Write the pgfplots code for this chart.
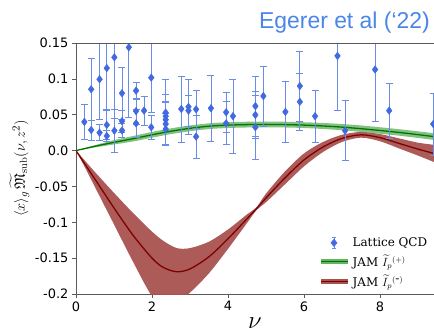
\documentclass[border=0pt]{standalone}
\usepackage{amsmath,amssymb}
\usepackage{pgfplots}
\pgfplotsset{compat=1.18}
\usepgfplotslibrary{fillbetween}
\usepackage{fontspec}
\newfontfamily\djsans{DejaVu Sans}
\newfontfamily\djserif{DejaVu Serif}
\newfontfamily\arial{Liberation Sans}
\definecolor{ptc}{RGB}{65,105,225}
\definecolor{errc}{RGB}{105,140,230}
\definecolor{gline}{RGB}{0,118,0}
\definecolor{gband}{RGB}{100,178,100}
\definecolor{rline}{RGB}{128,0,0}
\definecolor{rband}{RGB}{168,82,80}
\definecolor{titleblue}{RGB}{74,134,232}
\definecolor{axgray}{RGB}{90,90,90}

\pgfplotstableread{
x y e
0.22 0.040 0.025
0.40 0.0855 0.043
0.40 0.0287 0.014
0.62 0.0994 0.056
0.62 0.025 0.011
0.81 0.115 0.057
0.81 0.0357 0.020
0.81 0.0204 0.008
1.01 0.130 0.085
1.01 0.0278 0.030
1.21 0.080 0.036
1.21 0.041 0.015
1.21 0.028 0.010
1.39 0.144 0.097
1.58 0.0835 0.012
1.58 0.055 0.018
1.58 0.038 0.020
1.79 0.0557 0.020
1.98 0.1017 0.048
1.98 0.0325 0.017
2.36 0.053 0.046
2.36 0.048 0.020
2.36 0.043 0.035
2.36 0.037 0.030
2.36 0.030 0.022
2.77 0.058 0.046
2.96 0.061 0.039
2.96 0.0557 0.022
3.16 0.0576 0.026
3.16 0.0194 0.030
3.55 0.059 0.046
3.95 0.0534 0.028
3.95 0.038 0.030
4.13 0.048 0.052
4.72 0.062 0.042
4.72 0.0497 0.033
4.72 0.0325 0.045
4.93 0.076 0.042
5.51 0.054 0.042
5.89 0.090 0.049
5.89 0.068 0.040
6.29 0.048 0.036
6.88 0.132 0.076
7.08 0.0278 0.042
7.87 0.113 0.072
8.24 0.0557 0.038
9.40 0.037 0.043
}\lattice

\pgfplotstableread{
x c u l
0 0 0 0
0.25 -0.020 -0.015 -0.025
0.5 -0.040 -0.030 -0.051
1.0 -0.080 -0.059 -0.103
1.5 -0.118 -0.087 -0.155
2.0 -0.150 -0.113 -0.203
2.3 -0.163 -0.126 -0.209
2.65 -0.169 -0.136 -0.211
3.0 -0.165 -0.136 -0.198
3.5 -0.148 -0.127 -0.171
4.0 -0.123 -0.110 -0.137
4.5 -0.095 -0.089 -0.101
4.75 -0.081 -0.079 -0.083
5.0 -0.066 -0.060 -0.072
5.5 -0.038 -0.029 -0.047
6.0 -0.013 -0.004 -0.022
6.5 0.005 0.012 -0.002
7.0 0.017 0.022 0.012
7.5 0.022 0.026 0.018
8.0 0.018 0.023 0.013
8.5 0.010 0.017 0.003
9.0 0.002 0.011 -0.007
9.42 -0.004 0.008 -0.016
}\red

\pgfplotstableread{
x c u l
0 0 0 0
0.5 0.0060 0.0075 0.0045
1.0 0.0115 0.0145 0.0085
1.5 0.0165 0.0203 0.0127
2.0 0.0220 0.0260 0.0180
2.5 0.0270 0.0310 0.0230
3.0 0.0310 0.0350 0.0270
3.5 0.0340 0.0380 0.0300
4.0 0.0355 0.0395 0.0315
4.5 0.0362 0.0402 0.0322
5.0 0.0365 0.0405 0.0325
5.5 0.0362 0.0402 0.0322
6.0 0.0355 0.0395 0.0315
6.5 0.0343 0.0385 0.0301
7.0 0.0327 0.0370 0.0284
7.5 0.0305 0.0350 0.0260
8.0 0.0280 0.0325 0.0235
8.5 0.0253 0.0298 0.0208
9.0 0.0222 0.0268 0.0176
9.42 0.0195 0.0242 0.0148
}\green

\begin{document}
\begin{tikzpicture}
\begin{axis}[
  name=ax,
  scale only axis, width=358bp, height=251bp,
  xmin=0, xmax=9.42, ymin=-0.2, ymax=0.15,
  axis lines*=left,
  axis line style={axgray, line width=0.8bp},
  tick align=outside, tick pos=left,
  major tick length=4bp,
  every tick/.style={axgray, line width=0.7bp},
  xtick={0,2,4,6,8}, xticklabels={0,2,4,6,8},
  ytick={-0.2,-0.15,-0.1,-0.05,0,0.05,0.1,0.15},
  yticklabels={-0.2,-0.15,-0.1,-0.05,0.0,0.05,0.1,0.15},
  ticklabel style={font=\djsans\fontsize{13}{13}\selectfont},
  xlabel={$\nu$},
  xlabel style={at={(rel axis cs:0.5,0)}, anchor=base, yshift=-34bp, font=\fontsize{28}{28}\selectfont},
  ylabel={$\langle x\rangle_g\,\widetilde{\mathfrak{M}}_{\rm sub}(\nu,z^2)$},
  ylabel style={font=\fontsize{15}{15}\selectfont, yshift=-1bp},
  legend style={at={(0.99,0.01)}, anchor=south east, draw=none, fill=none,
    font=\djserif\fontsize{12}{12}\selectfont, row sep=3bp,
    legend cell align=left, inner sep=1bp},
  clip=true,
]
\addlegendimage{legend image code/.code={
  \draw[errc, line width=0.7bp] (0.45cm,-0.2cm)--(0.45cm,0.2cm)
     (0.38cm,-0.2cm)--(0.52cm,-0.2cm) (0.38cm,0.2cm)--(0.52cm,0.2cm);
  \fill[ptc] (0.45cm,0.13cm)--(0.56cm,0cm)--(0.45cm,-0.13cm)--(0.34cm,0cm)--cycle;}}
\addlegendentry{Lattice QCD}
\addlegendimage{legend image code/.code={
  \draw[gband, line width=5bp] (0cm,0cm)--(0.95cm,0cm);
  \draw[gline, line width=1.3bp] (0cm,0cm)--(0.95cm,0cm);}}
\addlegendentry{JAM $\widetilde{I}_p{}^{(+)}$}
\addlegendimage{legend image code/.code={
  \draw[rband, line width=5bp] (0cm,0cm)--(0.95cm,0cm);
  \draw[rline, line width=1.3bp] (0cm,0cm)--(0.95cm,0cm);}}
\addlegendentry{JAM $\widetilde{I}_p{}^{(\mbox{-})}$}

\addplot[draw=none, smooth, name path=ru, forget plot] table[x=x, y=u] {\red};
\addplot[draw=none, smooth, name path=rl, forget plot] table[x=x, y=l] {\red};
\addplot[rband, fill opacity=0.95, forget plot] fill between[of=ru and rl];
\addplot[rline, line width=1.3bp, smooth, forget plot] table[x=x, y=c] {\red};

\addplot[draw=none, smooth, name path=gu, forget plot] table[x=x, y=u] {\green};
\addplot[draw=none, smooth, name path=gl, forget plot] table[x=x, y=l] {\green};
\addplot[gband, fill opacity=0.8, forget plot] fill between[of=gu and gl];
\addplot[gline, line width=1.3bp, smooth, forget plot] table[x=x, y=c] {\green};

\addplot[forget plot, only marks, mark=diamond*, mark size=3.8bp, mark options={ptc, fill=ptc, draw=ptc},
  error bars/.cd, y dir=both, y explicit,
  error bar style={errc, line width=0.7bp},
  error mark options={rotate=90, mark size=3.5bp, errc, line width=0.7bp}]
  table[x=x, y=y, y error=e] {\lattice};
\end{axis}
\draw[axgray, line width=0.8bp] (ax.north west) -- (ax.north east);
\node[anchor=base east, text=titleblue, font=\arial\fontsize{23}{23}\selectfont, inner sep=0pt]
  at ([xshift=-4bp, yshift=15bp]ax.north east) {Egerer et al (‘22)};
\pgfresetboundingbox
\path[use as bounding box] ([xshift=-76bp, yshift=-36bp]ax.south west) rectangle ([yshift=43bp]ax.north east);
\end{tikzpicture}
\end{document}
